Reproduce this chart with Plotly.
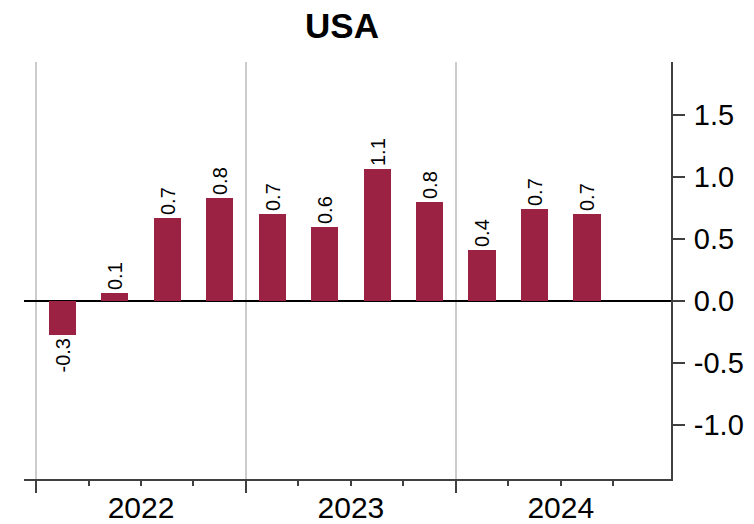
import plotly.graph_objects as go

# quarterly values, 2022 Q1 .. 2024 Q3
quarters = ["2022Q1", "2022Q2", "2022Q3", "2022Q4",
            "2023Q1", "2023Q2", "2023Q3", "2023Q4",
            "2024Q1", "2024Q2", "2024Q3"]
values = [-0.27, 0.07, 0.67, 0.83, 0.70, 0.60, 1.07, 0.80, 0.41, 0.74, 0.70]

years = ["2022", "2023", "2024"]
year_pos = [1.5, 5.5, 9.5]
year_bounds = [-0.5, 3.5, 7.5]
quarter_bounds = [0.5, 1.5, 2.5, 4.5, 5.5, 6.5, 8.5, 9.5, 10.5]
y_ticks = [-1.0, -0.5, 0.0, 0.5, 1.0, 1.5]
y_labels = ["-1.0", "-0.5", "0.0", "0.5", "1.0", "1.5"]

BAR = "#9c2243"
AXIS = "#404040"
GRID = "#cccccc"
FONT = "Liberation Sans, Arial, sans-serif"

# page body has an 8px margin, so the figure is sized to fit inside it
W, H = 746, 516

x_idx = list(range(len(quarters)))
x_range = [-0.73, 11.6]

fig = go.Figure()

fig.add_trace(go.Bar(
    x=x_idx,
    y=values,
    width=0.52,
    marker_color=BAR,
    marker_line_width=0,
    text=values,
    texttemplate="%{y:.1f}",
    textposition="outside",
    textangle=-90,
    constraintext="none",
    cliponaxis=False,
    textfont=dict(size=20, color="black", family=FONT),
    showlegend=False,
))

# dummy trace so the year-label axis gets drawn
fig.add_trace(go.Scatter(x=year_pos, y=[None] * 3, xaxis="x2",
                         mode="markers", showlegend=False, hoverinfo="skip"))

fig.update_layout(
    width=W, height=H,
    paper_bgcolor="white",
    plot_bgcolor="white",
    margin=dict(l=16, r=83, t=54, b=45),
    font=dict(family=FONT, color="black"),
    title=dict(
        text="<b>USA</b>",
        font=dict(size=35, color="black", family=FONT),
        x=334 / W, xanchor="center",
        y=1 - 18 / H, yanchor="middle", yref="container",
    ),
    bargap=0,
    xaxis=dict(
        range=x_range,
        automargin=False,
        tickmode="array",
        tickvals=year_bounds,
        ticktext=["", "", ""],
        ticks="outside",
        ticklen=12,
        tickwidth=2,
        tickcolor=AXIS,
        showgrid=True,
        gridcolor=GRID,
        gridwidth=2,
        showline=True,
        linecolor=AXIS,
        linewidth=2,
        zeroline=False,
        minor=dict(tickmode="array", tickvals=quarter_bounds,
                   ticks="outside", ticklen=5, tickwidth=2,
                   tickcolor=AXIS, showgrid=False),
    ),
    xaxis2=dict(
        overlaying="x",
        anchor="y",
        side="bottom",
        automargin=False,
        range=x_range,
        tickmode="array",
        tickvals=year_pos,
        ticktext=years,
        ticks="",
        ticklabelstandoff=8,
        tickfont=dict(size=30, color="black", family=FONT),
        showgrid=False,
        showline=False,
        zeroline=False,
    ),
    yaxis=dict(
        range=[-1.435, 1.93],
        side="right",
        automargin=False,
        tickmode="array",
        tickvals=y_ticks,
        ticktext=y_labels,
        ticks="outside",
        ticklen=12,
        tickwidth=2,
        tickcolor=AXIS,
        ticklabelstandoff=3,
        tickfont=dict(size=29, color="black", family=FONT),
        showgrid=False,
        showline=True,
        linecolor=AXIS,
        linewidth=2,
        zeroline=True,
        zerolinecolor="black",
        zerolinewidth=1.5,
    ),
)

fig.write_html("out.html")
